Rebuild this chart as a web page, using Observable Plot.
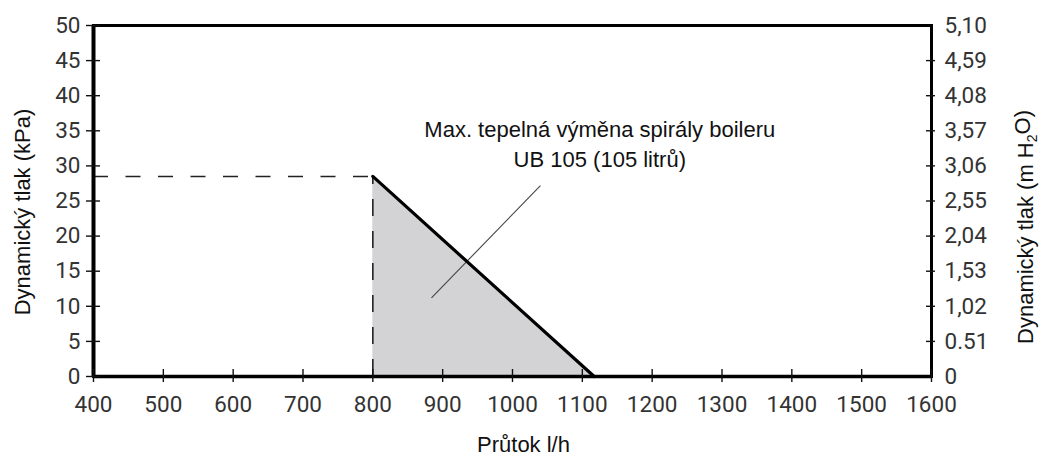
<!DOCTYPE html>
<html><head><meta charset="utf-8">
<script src="https://cdn.jsdelivr.net/npm/d3@7"></script>
<script src="https://cdn.jsdelivr.net/npm/@observablehq/plot@0.6"></script>
<style>body{margin:0;background:#fff} svg{display:block;background:#fff}</style>
</head><body><div id="chart"></div>
<script>
// ---- data ----
const flowTicks = [400, 500, 600, 700, 800, 900, 1000, 1100, 1200, 1300, 1400, 1500, 1600];
const kpaTicks = [0, 5, 10, 15, 20, 25, 30, 35, 40, 45, 50];
const mh2oLabels = ["0", "0.51", "1,02", "1,53", "2,04", "2,55", "3,06", "3,57", "4,08", "4,59", "5,10"];
const curveFlow = [800, 1117];
const curveKpa = [28.5, 0];
const leaderFlow = [884, 1040];
const leaderKpa = [11.2, 27.2];
const noteFlow = [1125];
const noteKpa = [37.2];
const noteText = ["Max. tepelná výměna spirály boileru\nUB 105 (105 litrů)"];
const xLabel = "Průtok l/h";
const yLabelLeft = "Dynamický tlak (kPa)";
const yLabelRight = "Dynamický tlak (m H2O)";

const curve = curveFlow.map((x, i) => ({x, y: curveKpa[i]}));
const peak = curve[0];
const leader = [{x1: leaderFlow[0], y1: leaderKpa[0], x2: leaderFlow[1], y2: leaderKpa[1]}];
const note = noteText.map((t, i) => ({x: noteFlow[i], y: noteKpa[i], t}));

const tickFont = {fontFamily: "Roboto, sans-serif", fontSize: 22.5, fill: "#333", letterSpacing: "0.4px"};
const labelFont = {fontFamily: "'Liberation Sans', Arial, sans-serif", fontSize: 22, fill: "#111"};

const chart = Plot.plot({
  width: 1042,
  height: 462,
  marginLeft: 93,
  marginRight: 111,
  marginTop: 25,
  marginBottom: 86,
  x: {domain: [400, 1600]},
  y: {domain: [0, 50]},
  marks: [
    Plot.areaY(curve, {x: "x", y: "y", fill: "#d3d3d5"}),
    Plot.ruleY([peak], {y: "y", x1: 400, x2: "x", stroke: "#222", strokeWidth: 1.6, strokeDasharray: "15,17.5"}),
    Plot.ruleX([peak], {x: "x", y1: 0, y2: "y", stroke: "#222", strokeWidth: 1.6, strokeDasharray: "17,15"}),
    Plot.link(leader, {x1: "x1", y1: "y1", x2: "x2", y2: "y2", stroke: "#444", strokeWidth: 1.1}),
    Plot.line(curve, {x: "x", y: "y", stroke: "#000", strokeWidth: 3.2}),
    Plot.frame({stroke: "#000", strokeWidth: 3}),
    Plot.ruleX([400], {stroke: "#000", strokeWidth: 4}),
    Plot.ruleY([0], {stroke: "#000", strokeWidth: 3.5}),
    // ticks
    Plot.axisY(kpaTicks, {anchor: "left", text: null, tickSize: 14, dx: 7, stroke: "#111", strokeWidth: 1.4, label: null}),
    Plot.axisY(kpaTicks.slice(1, -1), {anchor: "right", text: null, tickSize: 9, dx: -6, stroke: "#111", strokeWidth: 1.4, label: null}),
    Plot.axisX(flowTicks, {anchor: "bottom", text: null, tickSize: 13, dy: -7, stroke: "#111", strokeWidth: 1.4, label: null}),
    // tick labels
    Plot.axisY(kpaTicks, {anchor: "left", tickSize: 0, tickPadding: 13, label: null, tickFormat: d => String(d), ...tickFont}),
    Plot.axisY(kpaTicks, {anchor: "right", tickSize: 0, tickPadding: 13, label: null,
      tickFormat: d => mh2oLabels[kpaTicks.indexOf(d)], ...tickFont}),
    Plot.axisX(flowTicks, {anchor: "bottom", tickSize: 0, tickPadding: 20, label: null, tickFormat: d => String(d), ...tickFont}),
    // axis labels
    Plot.text([yLabelLeft], {frameAnchor: "left", text: d => d, rotate: -90, dx: -71, dy: 11, textAnchor: "middle", ...labelFont}),
    Plot.text([yLabelRight], {frameAnchor: "right", text: d => d, rotate: -90, dx: 94, dy: 26, textAnchor: "middle", ...labelFont}),
    Plot.text([xLabel], {frameAnchor: "bottom", text: d => d, dy: 75, dx: 11, ...labelFont}),
    // annotation
    Plot.text(note, {x: "x", y: "y", text: "t", lineAnchor: "top", lineHeight: 1.36, ...labelFont})
  ]
});

// subscript in H2O
d3.select(chart).selectAll("text").filter(function () { return this.textContent === yLabelRight; })
  .each(function () {
    const t = d3.select(this);
    t.text(null);
    t.append("tspan").text("Dynamický tlak (m H");
    t.append("tspan").attr("font-size", 14).attr("dy", "0.3em").text("2");
    t.append("tspan").attr("dy", "-0.3em").text("O)");
  });

document.getElementById("chart").appendChild(chart);
</script>
</body></html>
